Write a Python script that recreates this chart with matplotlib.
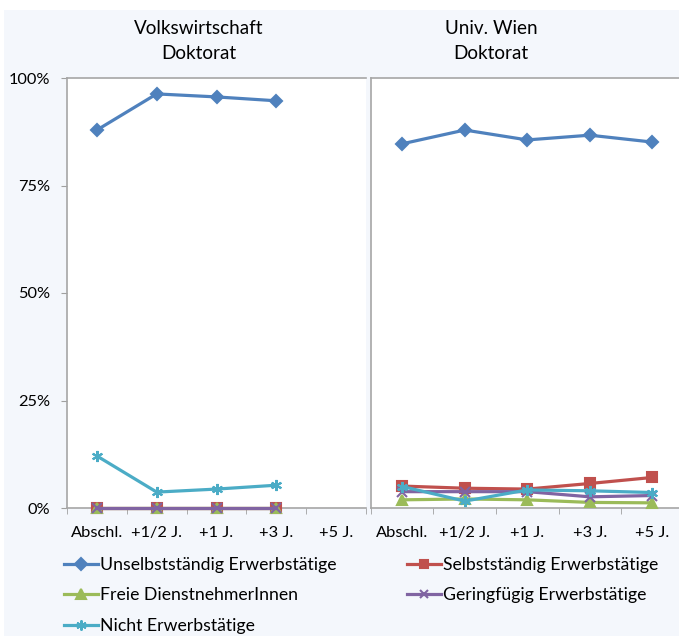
import numpy as np
import matplotlib.pyplot as plt
from matplotlib.patches import Rectangle

plt.rcParams['font.family'] = ['Lato', 'DejaVu Sans']

kategorien = ['Abschl.', '+1/2 J.', '+1 J.', '+3 J.', '+5 J.']
serien = ['Unselbstständig Erwerbstätige', 'Selbstständig Erwerbstätige',
          'Freie DienstnehmerInnen', 'Geringfügig Erwerbstätige',
          'Nicht Erwerbstätige']

# Anteile in Prozent (aus dem Bild geschätzt)
vw_unselb = [87.9, 96.3, 95.6, 94.7, np.nan]
vw_selb = [0, 0, 0, 0, np.nan]
vw_freie = [0, 0, 0, 0, np.nan]
vw_gering = [0, 0, 0, 0, np.nan]
vw_nicht = [12.1, 3.7, 4.4, 5.3, np.nan]

uw_unselb = [84.7, 87.9, 85.6, 86.7, 85.1]
uw_selb = [5.1, 4.6, 4.4, 5.7, 7.1]
uw_freie = [1.9, 2.1, 1.9, 1.3, 1.2]
uw_gering = [3.8, 3.8, 3.8, 2.6, 2.9]
uw_nicht = [5.0, 1.6, 4.2, 4.0, 3.6]

farben = ['#4F81BD', '#C0504D', '#9BBB59', '#8064A2', '#4BACC6']
marker = ['D', 's', '^', 'x', (6, 2, 0)]
msize = [6.5, 7, 7.5, 7, 8]

fig = plt.figure(figsize=(6.79, 6.36), dpi=100)
fig.patch.set_facecolor('white')
fig.patches.append(Rectangle((4 / 679, 0), 1, 1 - 10 / 636, transform=fig.transFigure,
                             facecolor='#F4F7FC', edgecolor='none', zorder=-10))

W, H = 679, 636
ax1 = fig.add_axes([67 / W, (H - 508) / H, 299 / W, 430 / H])
ax2 = fig.add_axes([371 / W, (H - 508) / H, 312.5 / W, 430 / H])

daten = [
    (ax1, [vw_unselb, vw_selb, vw_freie, vw_gering, vw_nicht], 'Volkswirtschaft\nDoktorat', 0.44),
    (ax2, [uw_unselb, uw_selb, uw_freie, uw_gering, uw_nicht], 'Univ. Wien\nDoktorat', 0.384),
]

x = np.arange(len(kategorien))
handles = []
for ax, werte, titel, tx in daten:
    ax.set_facecolor('white')
    for i, w in enumerate(werte):
        h, = ax.plot(x, w, color=farben[i], lw=2.3, marker=marker[i], ms=msize[i],
                     mew=1.5, clip_on=False, zorder=3 + i * 0.1)
        if ax is ax1:
            handles.append(h)
    ax.set_xlim(-0.5, 4.5)
    ax.set_ylim(0, 100)
    ax.set_xticks(x)
    ax.set_xticklabels(kategorien, fontsize=11.8)
    ax.set_xticks(np.arange(-0.5, 5, 1), minor=True)
    ax.tick_params(axis='x', which='major', length=0, pad=13)
    ax.tick_params(axis='x', which='minor', length=4, color='#A0A0A0', direction='out')
    for s in ['left', 'bottom', 'top']:
        ax.spines[s].set_color('#A6A6A6')
        ax.spines[s].set_linewidth(1.2)
    ax.spines['right'].set_visible(False)
    ax.set_title(titel, fontsize=13.6, pad=14, linespacing=1.55, x=tx)

ax1.set_yticks([0, 25, 50, 75, 100])
ax1.set_yticklabels(['0%', '25%', '50%', '75%', '100%'], fontsize=11.8)
ax1.tick_params(axis='y', length=4, color='#A0A0A0', pad=8)
ax2.set_yticks([])

reihenfolge = [0, 2, 4, 1, 3]
fig.legend([handles[i] for i in reihenfolge], [serien[i] for i in reihenfolge],
           ncol=2, loc='upper left', bbox_to_anchor=(64 / W, 1 - 557 / H),
           frameon=False, fontsize=12.7, handlelength=1.9, handletextpad=0.15,
           columnspacing=4.0, labelspacing=0.82, borderpad=0, borderaxespad=0,
           markerscale=0.9)

fig.savefig('out.png', dpi=100)
